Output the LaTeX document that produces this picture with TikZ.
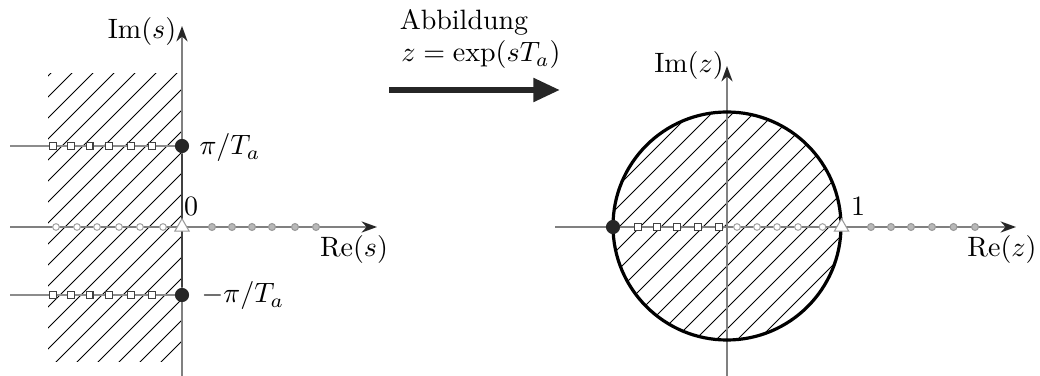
\RequirePackage{fix-cm}
\documentclass[tikz,border=0pt]{standalone}
\usepackage{amsmath,amssymb}
\usepackage{tikz}
\usetikzlibrary{arrows.meta,shapes.geometric}

\begin{document}
\begin{tikzpicture}[
    x=0.375pt, y=-0.375pt,
    every node/.style={font=\fontsize{10.5}{12.6}\selectfont},
    axisline/.style={draw=black!50, line width=0.6pt, -{Stealth[length=5.8pt, width=4.2pt, color=black!85]}},
    guide/.style={draw=black!45, line width=0.4pt},
    hatchline/.style={draw=black, line width=0.35pt},
    sqmark/.style={draw=black!75, fill=white, rectangle, minimum size=2.6pt, inner sep=0pt, line width=0.4pt},
    ocirc/.style={draw=black!35, fill=white, circle, minimum size=2.5pt, inner sep=0pt, line width=0.4pt},
    fcirc/.style={draw=black!40, fill=black!28, circle, minimum size=2.6pt, inner sep=0pt, line width=0.4pt},
    trimark/.style={draw=black!40, fill=white, regular polygon, regular polygon sides=3, minimum size=6.2pt, inner sep=0pt, line width=0.4pt},
    bigdot/.style={fill=black!85, circle, minimum size=5.3pt, inner sep=0pt},
    maparrow/.style={-{Triangle[length=10pt, width=8.5pt]}, line width=2.3pt, black!85}
]
\useasboundingbox (0,0) rectangle (1040,376);

% s-plane
\coordinate (sorig) at (182,227);
\coordinate (sxl) at (10,227);
\coordinate (sxr) at (377,227);
\coordinate (syb) at (182,376);
\coordinate (syt) at (182,26);
\coordinate (spl) at (10,146);
\coordinate (sml) at (10,295);

\begin{scope}
  \clip (48,74) rectangle (182,362);
  \foreach \c in {124,145,...,565}
    \draw[hatchline] (\c-400,400) -- (\c,0);
\end{scope}

\draw[guide] (spl) -- (182,146);
\draw[guide] (sml) -- (182,295);
\draw[axisline] (sxl) -- (sxr);
\draw[axisline] (syb) -- (syt);

\node[bigdot] (spi) at (182,146) {};
\node[bigdot] (smpi) at (182,295) {};
\draw[draw=black!75, line width=0.9pt] (spi) -- (smpi);

\foreach \x [count=\i] in {53,71,89.5,109,131,152} {
  \node[sqmark] (sqp\i) at (\x,146) {};
  \node[sqmark] (sqm\i) at (\x,295) {};
}
\foreach \x [count=\i] in {56,77,97,119,140,163}
  \node[ocirc] (so\i) at (\x,227) {};
\foreach \x [count=\i] in {212,232,252,272,295,316}
  \node[fcirc] (sf\i) at (\x,227) {};
\node[trimark] (stri) at (sorig) {};

\node (lims) at (142,32) {$\mathrm{Im}(s)$};
\node (lres) at (354,250) {$\mathrm{Re}(s)$};
\node[anchor=west, inner sep=0pt] (lpi) at (199,148) {$\pi/T_a$};
\node[anchor=west, inner sep=0pt] (lmpi) at (201,296) {$-\pi/T_a$};
\node (lzero) at (191,206) {$0$};

% mapping
\coordinate (mapa) at (389,90);
\coordinate (mapb) at (560,90);
\draw[maparrow] (mapa) -- (mapb);
\node (labb) at (464,22) {Abbildung};
\node (lmap) at (481,55) {$z=\exp(sT_a)$};

% z-plane
\coordinate (zorig) at (727,227);
\coordinate (zxl) at (555,227);
\coordinate (zxr) at (1016,227);
\coordinate (zyb) at (727,376);
\coordinate (zyt) at (727,66);

\begin{scope}
  \clip (727,226) circle[radius=114];
  \foreach \c in {720,741,...,1190}
    \draw[hatchline] (\c-400,400) -- (\c,0);
\end{scope}

\draw[axisline] (zxl) -- (zxr);
\draw[axisline] (zyb) -- (zyt);
\draw[line width=1.2pt] (zorig) ++(0,-1) circle[radius=114];

\node[bigdot] (zmone) at (613,227) {};
\foreach \x [count=\i] in {638,657,677,698,719}
  \node[sqmark] (zsq\i) at (\x,227) {};
\foreach \x [count=\i] in {737,757,777,798,822.5}
  \node[ocirc] (zo\i) at (\x,227) {};
\foreach \x [count=\i] in {871,891,911,932,953.5,975}
  \node[fcirc] (zf\i) at (\x,227) {};
\node[trimark] (ztri) at (841.5,227) {};

\node (limz) at (689,66) {$\mathrm{Im}(z)$};
\node (lrez) at (1002,250) {$\mathrm{Re}(z)$};
\node (lone) at (858,206) {$1$};
\end{tikzpicture}
\end{document}
